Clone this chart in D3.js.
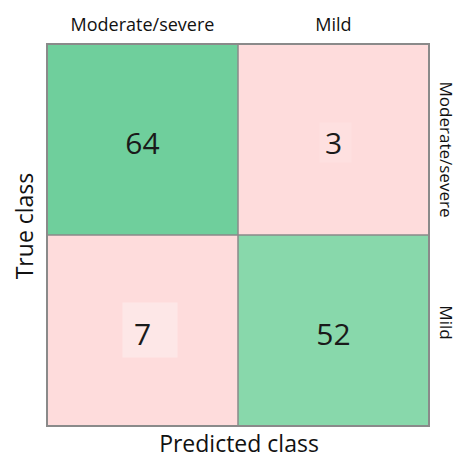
<!DOCTYPE html>
<html>
<head>
<meta charset="utf-8">
<script src="https://cdn.jsdelivr.net/npm/d3@7"></script>
<style>
  body { margin: 0; background: #fff; }
  svg { display: block; }
</style>
</head>
<body>
<svg id="cm" width="459" height="459"></svg>
<script>
let predicted = ["Moderate/severe", "Mild"];
let actual = ["Moderate/severe", "Mild"];
let counts = [[64, 3], [7, 52]];

let cells = [];
actual.forEach((a, i) => {
    predicted.forEach((p, j) => {
        cells.push({row: a, col: p, value: counts[i][j], hit: i == j});
    });
});

let svg = d3.select("#cm"),
    mLeft = 47, mTop = 44, mRight = 429, mBottom = 426;

let x = d3.scaleBand().domain(predicted).range([mLeft, mRight]),
    y = d3.scaleBand().domain(actual).range([mTop, mBottom]);

let fills = {"Moderate/severe": "#6fcf9c", "Mild": "#88d8ab"};

svg.append("g")
    .selectAll("rect")
    .data(cells)
    .enter()
    .append("rect")
    .attr("x", d => x(d.col))
    .attr("y", d => y(d.row))
    .attr("width", x.bandwidth())
    .attr("height", y.bandwidth())
    .attr("fill", d => d.hit ? fills[d.row] : "#fedcdc");

// light patches behind the off-diagonal numbers (scan artefact)
svg.append("g")
    .selectAll("rect")
    .data(cells.filter(d => !d.hit))
    .enter()
    .append("rect")
    .attr("x", d => d.value == 7 ? x(d.col) + x.bandwidth()/2 - 20 : x(d.col) + x.bandwidth()/2 - 14)
    .attr("y", d => d.value == 7 ? y(d.row) + y.bandwidth()/2 - 28 : y(d.row) + y.bandwidth()/2 - 17)
    .attr("width", d => d.value == 7 ? 55 : 32)
    .attr("height", d => d.value == 7 ? 55 : 40)
    .attr("fill", d => d.value == 7 ? "#fde7e7" : "#fee0e0");

// grid lines
svg.append("rect")
    .attr("x", mLeft).attr("y", mTop)
    .attr("width", mRight - mLeft).attr("height", mBottom - mTop)
    .attr("fill", "none")
    .attr("stroke", "#8a8a8a")
    .attr("stroke-width", 2);

svg.append("line")
    .attr("x1", x("Mild")).attr("x2", x("Mild"))
    .attr("y1", mTop).attr("y2", mBottom)
    .attr("stroke", "#8a8a8a").attr("stroke-width", 1.5);

svg.append("line")
    .attr("x1", mLeft).attr("x2", mRight)
    .attr("y1", y("Mild")).attr("y2", y("Mild"))
    .attr("stroke", "#8a8a8a").attr("stroke-width", 1.5);

let font = "'Open Sans', 'Noto Sans', sans-serif";

svg.append("g")
    .selectAll("text")
    .data(cells)
    .enter()
    .append("text")
    .attr("x", d => x(d.col) + x.bandwidth()/2)
    .attr("y", d => y(d.row) + y.bandwidth()/2 + 14)
    .attr("text-anchor", "middle")
    .style("font-family", font)
    .style("font-size", "30px")
    .style("fill", "#1a1a1a")
    .text(d => d.value);

// column labels on top
svg.append("g")
    .selectAll("text")
    .data(predicted)
    .enter()
    .append("text")
    .attr("x", d => x(d) + x.bandwidth()/2)
    .attr("y", 31)
    .attr("text-anchor", "middle")
    .style("font-family", font)
    .style("font-size", "18px")
    .style("fill", "#111")
    .text(d => d);

// row labels on the right, rotated
svg.append("g")
    .selectAll("text")
    .data(actual)
    .enter()
    .append("text")
    .attr("transform", d => "translate(440," + (y(d) + y.bandwidth()/2 + (d == "Mild" ? -8 : 10)) + ") rotate(90)")
    .attr("text-anchor", "middle")
    .style("font-family", font)
    .style("font-size", "17px")
    .style("fill", "#111")
    .text(d => d);

svg.append("text")
    .attr("transform", "translate(33,226) rotate(-90)")
    .attr("text-anchor", "middle")
    .style("font-family", font)
    .style("font-size", "23px")
    .style("fill", "#111")
    .text("True class");

svg.append("text")
    .attr("x", 239)
    .attr("y", 452)
    .attr("text-anchor", "middle")
    .style("font-family", font)
    .style("font-size", "23px")
    .style("fill", "#111")
    .text("Predicted class");
</script>
</body>
</html>
